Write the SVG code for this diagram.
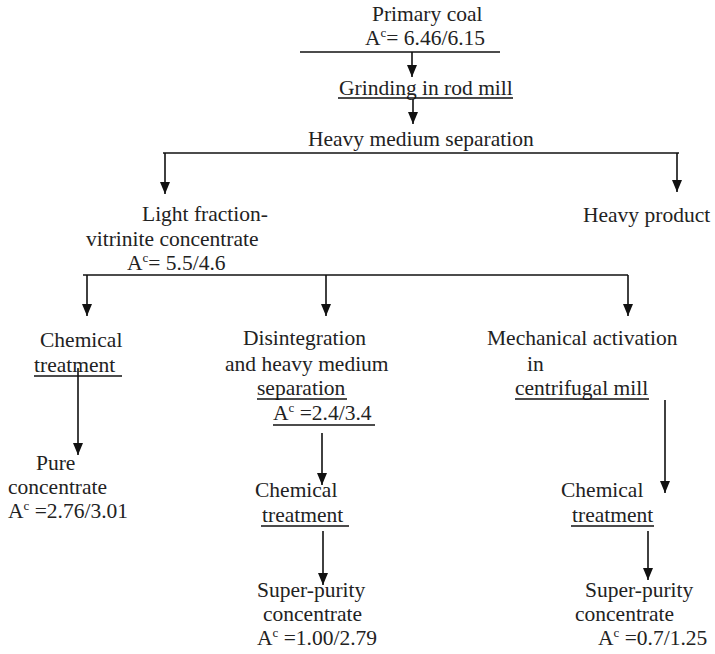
<svg xmlns="http://www.w3.org/2000/svg" width="715" height="654" viewBox="0 0 715 654">
  <style>
    text { font-family: 'Liberation Serif', Tinos, 'Times New Roman', Times, 'DejaVu Serif', serif; font-size: 21.5px; fill: #222; }
    .sup { font-size: 13px; }
    .ul { stroke: #111; stroke-width: 1.6; }
    .ln { stroke: #111; stroke-width: 1.5; fill: none; }
    .arr { stroke: #111; stroke-width: 1.6; fill: none; marker-end: url(#head); }
  </style>
  <defs>
    <marker id="head" viewBox="0 0 12 10" refX="12" refY="5" markerWidth="12" markerHeight="10" markerUnits="userSpaceOnUse" orient="auto">
      <path d="M0,0 L12,5 L0,10 z" fill="#111"/>
    </marker>
  </defs>
  <rect width="715" height="654" fill="#fff"/>

  <g id="connectors">
    <line class="ln" x1="300" y1="52" x2="500" y2="52"/>
    <line class="arr" x1="412" y1="52" x2="412" y2="77"/>
    <line class="arr" x1="413" y1="99" x2="413" y2="124"/>
    <line class="ln" x1="163" y1="153" x2="679" y2="153"/>
    <line class="arr" x1="165" y1="153" x2="165" y2="194"/>
    <line class="arr" x1="677" y1="153" x2="677" y2="192"/>
    <line class="ln" x1="83" y1="275" x2="628" y2="275"/>
    <line class="arr" x1="87" y1="275" x2="87" y2="316"/>
    <line class="arr" x1="326" y1="275" x2="326" y2="316"/>
    <line class="arr" x1="628" y1="275" x2="628" y2="316"/>
    <line class="arr" x1="78" y1="368" x2="78" y2="455"/>
    <line class="arr" x1="322" y1="433" x2="322" y2="485"/>
    <line class="arr" x1="665" y1="400" x2="665" y2="493"/>
    <line class="arr" x1="323" y1="531" x2="323" y2="585"/>
    <line class="arr" x1="648" y1="531" x2="648" y2="580"/>
  </g>

  <g id="primary-coal">
    <text x="372" y="21">Primary coal</text>
    <text x="365" y="45">A<tspan class="sup" dy="-8">c</tspan><tspan dy="8">= 6.46/6.15</tspan></text>
  </g>

  <g id="grinding">
    <text x="339" y="95">Grinding in rod mill</text>
    <line class="ul" x1="338" y1="98" x2="513" y2="98"/>
  </g>

  <g id="hm-separation">
    <text x="308" y="146">Heavy medium separation</text>
  </g>

  <g id="light-fraction">
    <text x="142" y="221">Light fraction-</text>
    <text x="86" y="246">vitrinite concentrate</text>
    <text x="127" y="270">A<tspan class="sup" dy="-8">c</tspan><tspan dy="8">= 5.5/4.6</tspan></text>
  </g>

  <g id="heavy-product">
    <text x="583" y="222">Heavy product</text>
  </g>

  <g id="chem-treatment-1">
    <text x="40" y="347">Chemical</text>
    <text x="34" y="372">treatment</text>
    <line class="ul" x1="34" y1="376" x2="122" y2="376"/>
  </g>

  <g id="pure-concentrate">
    <text x="36" y="470">Pure</text>
    <text x="8" y="494">concentrate</text>
    <text x="8" y="518">A<tspan class="sup" dy="-8">c</tspan><tspan dy="8"> =2.76/3.01</tspan></text>
  </g>

  <g id="disintegration">
    <text x="243" y="345">Disintegration</text>
    <text x="225" y="371">and heavy medium</text>
    <text x="257" y="395">separation</text>
    <line class="ul" x1="257" y1="399" x2="347" y2="399"/>
    <text x="273" y="420">A<tspan class="sup" dy="-8">c</tspan><tspan dy="8"> =2.4/3.4</tspan></text>
    <line class="ul" x1="273" y1="425" x2="375" y2="425"/>
  </g>

  <g id="mech-activation">
    <text x="487" y="345">Mechanical activation</text>
    <text x="527" y="371">in</text>
    <text x="515" y="395">centrifugal mill</text>
    <line class="ul" x1="515" y1="399" x2="649" y2="399"/>
  </g>

  <g id="chem-treatment-2">
    <text x="255" y="497">Chemical</text>
    <text x="262" y="522">treatment</text>
    <line class="ul" x1="261" y1="526" x2="349" y2="526"/>
  </g>

  <g id="super-purity-1">
    <text x="257" y="597">Super-purity</text>
    <text x="263" y="621">concentrate</text>
    <text x="257" y="645">A<tspan class="sup" dy="-8">c</tspan><tspan dy="8"> =1.00/2.79</tspan></text>
  </g>

  <g id="chem-treatment-3">
    <text x="561" y="497">Chemical</text>
    <text x="572" y="522">treatment</text>
    <line class="ul" x1="571" y1="526" x2="654" y2="526"/>
  </g>

  <g id="super-purity-2">
    <text x="585" y="597">Super-purity</text>
    <text x="575" y="621">concentrate</text>
    <text x="598" y="645">A<tspan class="sup" dy="-8">c</tspan><tspan dy="8"> =0.7/1.25</tspan></text>
  </g>
</svg>
